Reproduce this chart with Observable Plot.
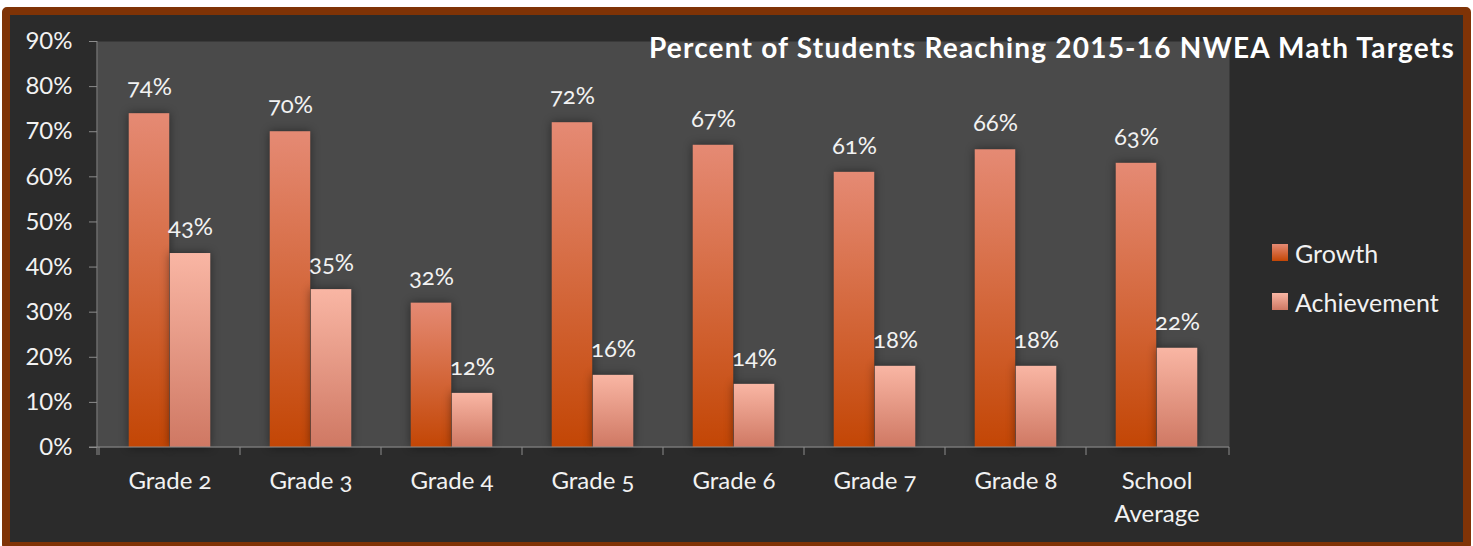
<!DOCTYPE html>
<html><head><meta charset="utf-8">
<script src="https://cdn.jsdelivr.net/npm/d3@7"></script>
<script src="https://cdn.jsdelivr.net/npm/@observablehq/plot@0.6"></script>
<style>
html,body{margin:0;padding:0;background:#fff;overflow:hidden;width:1473px;height:546px;}
body{font-family:Lato,"Open Sans",sans-serif;font-variant-numeric:oldstyle-nums;}
#frame{position:absolute;left:2px;top:7px;width:1453px;height:527px;border:8px solid #7f3306;border-radius:5px;background:#2b2b2b;}
#chart{position:absolute;left:0;top:0;}
#title{position:absolute;right:18px;top:30px;color:#fff;font-weight:bold;font-size:28px;letter-spacing:1.2px;white-space:nowrap;font-variant-numeric:normal;}
#legend{position:absolute;left:1272px;top:228px;color:#f2f2f2;font-size:25px;}
.li{display:flex;align-items:center;height:49px;}
.sw{width:16px;height:17px;margin-right:7px;}
g[aria-label="y-axis tick"]{stroke:#8c8c8c;}
g[aria-label="y-axis tick label"], g[aria-label="y-axis"] text{fill:#f2f2f2;}
g[aria-label="bar"]{filter:drop-shadow(0 0 5px rgba(0,0,0,0.45));}
</style></head>
<body>
<svg width="0" height="0" style="position:absolute">
  <defs>
    <linearGradient id="gGrowth" x1="0" y1="0" x2="0" y2="1">
      <stop offset="0" stop-color="#e58a74"/><stop offset="1" stop-color="#c34605"/>
    </linearGradient>
    <linearGradient id="gAch" x1="0" y1="0" x2="0" y2="1">
      <stop offset="0" stop-color="#f9b6a4"/><stop offset="1" stop-color="#cf7863"/>
    </linearGradient>
  </defs>
</svg>
<div id="frame"></div>
<div id="chart"></div>
<div id="title"></div>
<div id="legend"></div>
<script>
const categories = ["Grade 2","Grade 3","Grade 4","Grade 5","Grade 6","Grade 7","Grade 8","School Average"];
const tickLabels = ["Grade 2","Grade 3","Grade 4","Grade 5","Grade 6","Grade 7","Grade 8","School\nAverage"];
const growth = [74,70,32,72,67,61,66,63];
const achievement = [43,35,12,16,14,18,18,22];
const yTicks = [0,10,20,30,40,50,60,70,80,90];
const seriesNames = ["Growth","Achievement"];
const seriesFills = ["url(#gGrowth)","url(#gAch)"];
const titleText = "Percent of Students Reaching 2015-16 NWEA Math Targets";

const data = categories.map((c,i)=>({category:c, label:tickLabels[i], growth:growth[i], achievement:achievement[i]}));

const W = 1473, H = 546, mL = 97, mR = 244, mT = 41, mB = 99;
const band = (W - mL - mR) / categories.length;
const barW = band * 0.29;
const outer = (band - 2*barW) / 2;

function axesLines(index, scales, values, dims) {
  const g = d3.create("svg:g");
  const y0 = scales.y(0), yTop = scales.y(90);
  const x0 = dims.marginLeft, x1 = dims.width - dims.marginRight;
  const stroke = "#8c8c8c";
  g.append("line").attr("x1",x0).attr("x2",x0).attr("y1",yTop).attr("y2",y0+8).attr("stroke",stroke);
  g.append("line").attr("x1",x0-8).attr("x2",x1).attr("y1",y0).attr("y2",y0).attr("stroke",stroke);
  const edges = categories.map(c => scales.x(c)).concat([x1]);
  for (const e of edges) g.append("line").attr("x1",e).attr("x2",e).attr("y1",y0).attr("y2",y0+8).attr("stroke",stroke);
  return g.node();
}

const chart = Plot.plot({
  width: W, height: H,
  marginLeft: mL, marginRight: mR, marginTop: mT, marginBottom: mB,
  style: {background: "transparent", fontFamily: "Lato, 'Open Sans', sans-serif", fontSize: "24px", color: "#f2f2f2", overflow: "visible"},
  x: {domain: categories, padding: 0, axis: null},
  y: {domain: [0, 90], ticks: yTicks, tickFormat: d => d + "%", tickSize: 8, tickPadding: 17, label: null},
  marks: [
    Plot.frame({fill: "#4a4a4a", stroke: null}),
    Plot.barY(data, {x: "category", y: "growth", fill: seriesFills[0], insetLeft: outer, insetRight: outer + barW}),
    Plot.barY(data, {x: "category", y: "achievement", fill: seriesFills[1], insetLeft: outer + barW, insetRight: outer}),
    Plot.text(data, {x: "category", y: "growth", text: d => d.growth + "%", dx: -barW/2, dy: -26, fill: "#f2f2f2", fontSize: 24}),
    Plot.text(data, {x: "category", y: "achievement", text: d => d.achievement + "%", dx: barW/2, dy: -26, fill: "#f2f2f2", fontSize: 24}),
    Plot.text(data, {x: "category", text: "label", frameAnchor: "bottom", lineAnchor: "top", dy: 18, lineHeight: 1.375, fill: "#f2f2f2", fontSize: 24}),
    axesLines
  ]
});
document.getElementById("chart").appendChild(chart);
document.getElementById("title").textContent = titleText;
const lg = document.getElementById("legend");
seriesNames.forEach((s,i) => {
  const row = document.createElement("div"); row.className = "li";
  const sw = document.createElement("div"); sw.className = "sw";
  sw.style.background = i === 0 ? "linear-gradient(#e58a74,#c34605)" : "linear-gradient(#f9b6a4,#cf7863)";
  const t = document.createElement("span"); t.textContent = s;
  row.appendChild(sw); row.appendChild(t); lg.appendChild(row);
});
</script>
</body></html>
